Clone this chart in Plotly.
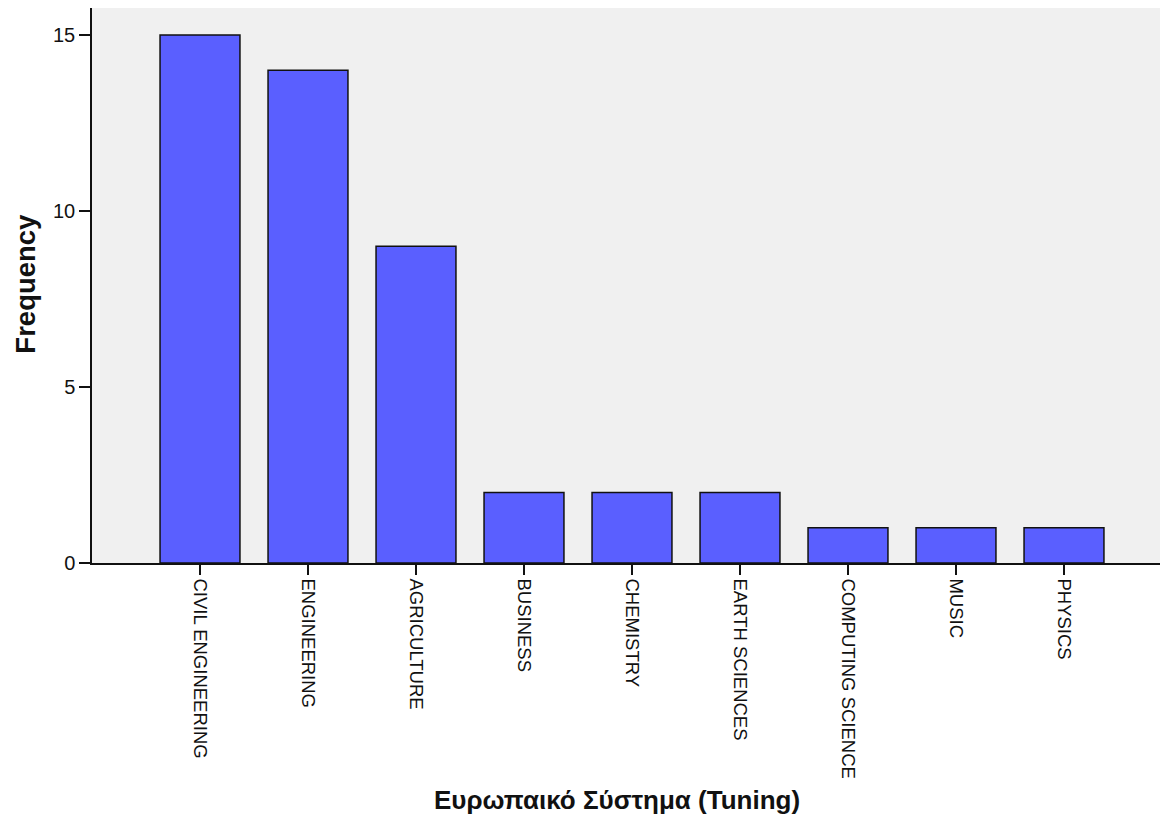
import plotly.graph_objects as go

# Συχνότητες ανά κατηγορία
categories = ['CIVIL ENGINEERING', 'ENGINEERING', 'AGRICULTURE', 'BUSINESS', 'CHEMISTRY',
              'EARTH SCIENCES', 'COMPUTING SCIENCE', 'MUSIC', 'PHYSICS']
frequencies = [15, 14, 9, 2, 2, 2, 1, 1, 1]
y_ticks = [0, 5, 10, 15]

BAR_COLOR = '#5a5fff'
BG_COLOR = '#f0f0f0'
INK = '#111111'

fig = go.Figure(go.Bar(
    x=categories,
    y=frequencies,
    width=0.74,
    marker=dict(color=BAR_COLOR, line=dict(color=INK, width=1.5)),
))

# la page html ajoute 8px de marge au body -> figure 1160x819
fig.update_layout(
    width=1160, height=819,
    margin=dict(l=84, r=0, t=0, b=264),
    plot_bgcolor=BG_COLOR,
    paper_bgcolor='white',
    font=dict(family='Liberation Sans, Arial, sans-serif', color=INK),
    showlegend=False,
    annotations=[
        dict(text='<b>Ευρωπαικό Σύστημα (Tuning)</b>', xref='paper', yref='paper',
             x=0.488, y=-0.427, xanchor='center', yanchor='middle', showarrow=False,
             font=dict(size=26)),
        dict(text='<b>Frequency</b>', xref='paper', yref='paper',
             x=-0.0615, y=0.503, xanchor='center', yanchor='middle', showarrow=False,
             textangle=-90, borderpad=0, font=dict(size=27.5)),
    ],
)

fig.update_xaxes(
    range=[-1, 8.963],
    tickangle=90,
    tickfont=dict(size=18.5),
    ticks='outside', ticklen=10, tickcolor=INK, tickwidth=1.5,
    showline=True, linecolor=INK, linewidth=1.5, mirror=True,
    showgrid=False, automargin=False,
)

fig.update_yaxes(
    range=[0, 15.77],
    tickvals=y_ticks,
    tickfont=dict(size=20),
    ticks='outside', ticklen=11, tickcolor=INK, tickwidth=1.5,
    showline=True, linecolor=INK, linewidth=1.5, mirror=True,
    showgrid=False, zeroline=False, automargin=False,
)

fig.write_html("out.html")
